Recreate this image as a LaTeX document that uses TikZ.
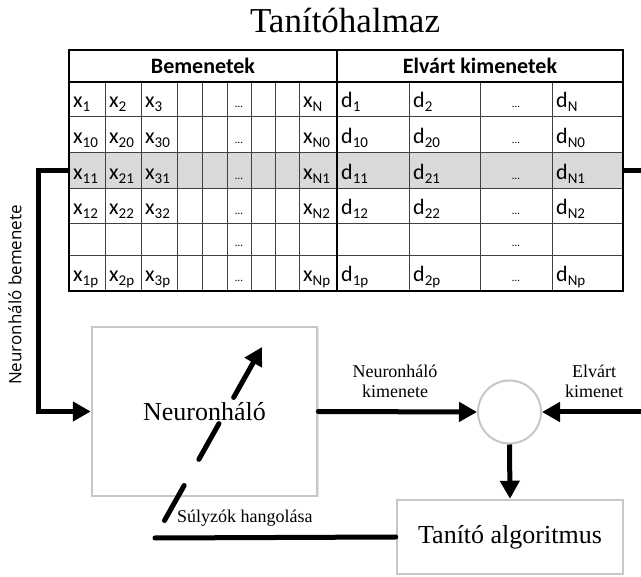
\documentclass[tikz,border=0pt]{standalone}
\usepackage{fontspec}
\setmainfont{Liberation Serif}
\newfontfamily\tablefont{Carlito}
\newfontfamily\sidefont{Open Sans}
\usetikzlibrary{arrows.meta,shadows}

% lowered index for the table entries
\newcommand\idx[1]{\raisebox{-4.5pt}{\fontsize{15}{15}\selectfont #1}}

\begin{document}
\begin{tikzpicture}[x=1pt, y=-1pt,
  every node/.style = {inner sep=0pt},
  cell/.style = {anchor=base west, xshift=4pt, yshift=9.5pt,
    font=\tablefont\fontsize{22}{22}\selectfont},
  dots/.style = {anchor=base, yshift=9pt, font=\tablefont\fontsize{11}{11}\selectfont},
  head/.style = {font=\tablefont\bfseries\fontsize{22}{22}\selectfont},
  block/.style = {draw=black!22, line width=2.5pt, fill=white,
    font=\fontsize{26}{28}\selectfont},
  conn/.style = {line width=5pt, -{Triangle[length=18pt,width=19pt]}},
  tag/.style = {font=\fontsize{18}{20}\selectfont, align=center}]
  \useasboundingbox (0,0) rectangle (641,577);

  \node[font=\fontsize{35}{36}\selectfont, anchor=base] (title) at (345,33) {Tanítóhalmaz};

  % training set table
  \fill[black!15] (69,153) rectangle (623,189);
  \foreach \y in {117,153,189,224,256}
    \draw[black!75, line width=1pt] (69,\y) -- (623,\y);
  \foreach \x in {105,141,177,202,227,251,275,299,409,480,552}
    \draw[black!75, line width=1pt] (\x,82) -- (\x,291);
  \draw[line width=1.5pt] (69,82) -- (623,82);
  \draw[line width=2pt] (337,50) -- (337,291);
  \draw[line width=2pt] (69,50) rectangle (623,291);
  \node[head] (inputs) at (203,66) {Bemenetek};
  \node[head] (targets) at (480,66) {Elvárt kimenetek};

  \foreach \r/\yb/\a/\b/\c/\n in {1/117/1/2/3/N, 2/153/10/20/30/N0,
      3/189/11/21/31/N1, 4/224/12/22/32/N2, 6/291/1p/2p/3p/Np} {
    \node[cell] (x1-\r) at (69,\yb) {x\idx{\a}};
    \node[cell] (x2-\r) at (105,\yb) {x\idx{\b}};
    \node[cell] (x3-\r) at (141,\yb) {x\idx{\c}};
    \node[cell] (xn-\r) at (299,\yb) {x\idx{\n}};
    \node[cell] (d1-\r) at (337,\yb) {d\idx{\a}};
    \node[cell] (d2-\r) at (409,\yb) {d\idx{\b}};
    \node[cell] (dn-\r) at (552,\yb) {d\idx{\n}};
  }
  \foreach \r/\yb in {1/117,2/153,3/189,4/224,5/256,6/291} {
    \node[dots] (xdots-\r) at (239,\yb) {…};
    \node[dots] (ddots-\r) at (516,\yb) {…};
  }
  \coordinate (rowin) at (69,171);
  \coordinate (rowout) at (623,171);
  \coordinate (edge) at (641,171);

  % network and training loop
  \node[block, minimum width=225pt, minimum height=169pt,
    drop shadow={opacity=0.2, shadow xshift=1.5pt, shadow yshift=-1.5pt}]
    (nn) at (204.5,411.5) {Neuronháló};
  \node[block, circle, line width=2pt, minimum size=63pt] (cmp) at (509.5,412) {};
  \node[block, minimum width=226pt, minimum height=74pt] (alg) at (510,537) {Tanító algoritmus};
  \coordinate (target) at (641,412);
  \coordinate (fbend) at (155,538);
  \coordinate (tunebeg) at (164.5,520.5);
  \coordinate (tuneend) at (262,347);

  \draw[conn] (rowin) -- ++(-31,0) |- (nn.west);
  \draw[line width=5pt] (rowout) -- (edge);
  \draw[conn, line cap=round] (nn.east) -- (cmp.west);
  \draw[conn] (target) -- (cmp.east);
  \draw[conn] (cmp.south) -- (alg.north);
  \draw[line width=5pt, line cap=round] (alg.west) -- (fbend);
  \draw[line width=5pt, line cap=round, {Triangle[length=18pt,width=19pt]}-,
    dash pattern=on 41pt off 30pt] (tuneend) -- (tunebeg);

  \node[font=\sidefont\fontsize{17}{17}\selectfont, rotate=90] (inlabel) at (15,295) {Neuronháló bemenete};
  \node[tag] (outlabel) at (395,381) {Neuronháló\\kimenete};
  \node[tag] (tgtlabel) at (594,381) {Elvárt\\kimenet};
  \node[tag, anchor=base west] (tunelabel) at (177,523) {Súlyzók hangolása};
\end{tikzpicture}
\end{document}
